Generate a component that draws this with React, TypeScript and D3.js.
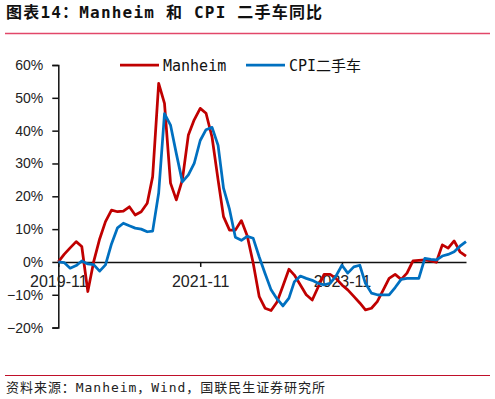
import React, { useEffect, useRef } from "react";
import * as d3 from "d3";

// months 2019-11 .. 2025-08
const months = d3.timeMonth.range(new Date(2019, 10, 1), new Date(2025, 8, 1));

const manheim = [
  0, 2.3, 4.3, 6.2, 4.7, -9, 0, 7, 12.3, 15.8,
  15.3, 15.5, 16.8, 14.3, 15.3, 17.9, 26, 54.4, 48.3, 24,
  18.9, 25, 38.7, 43.3, 46.8, 45.3, 38, 25, 13.8, 9.7,
  9.7, 12.6, 8, -0.4, -10.6, -14.1, -14.8, -12.3, -7.3, -2.2,
  -4, -7, -10, -11.6, -7.7, -3.8, -3.8, -5, -7, -8.5,
  -10.5, -12.5, -14.6, -14.1, -12.1, -8.5, -5, -3.8, -5.3, -3.4,
  0.3, 0.5, 0.6, 0.3, -0.1, 5.2, 4.2, 6.4, 3.1, 1.8,
];

const cpiUsedCars = [
  0, -0.2, -1.9, -1.1, 0.3, -0.6, -0.8, -2.8, -0.9, 5.5,
  10.4, 11.8, 11, 10.3, 10, 9.2, 9.4, 21, 45.2, 41.7,
  33, 24.4, 26.5, 30, 37, 40.3, 41, 35.5, 22.5, 16,
  7.5, 6.6, 7.8, 7.2, 1.5, -3.5, -8.5, -11.2, -13.4, -11,
  -6, -4.3, -5, -5.6, -6.5, -7, -6.5, -4.3, -1, -3.4,
  -1.5, -1, -6.5, -9.5, -10, -10, -10, -7.8, -5.3, -5,
  -5, -5, 1.1, 0.8, 0.6, 1.8, 2.3, 3.1, 4.8, 6.2,
];

const xTickDates = [new Date(2019, 10, 1), new Date(2021, 10, 1), new Date(2023, 10, 1)];
const yTicks = [-20, -10, 0, 10, 20, 30, 40, 50, 60];

const RED = "#c00000";
const BLUE = "#0070c0";

function App() {
  const chart = useRef<SVGSVGElement | null>(null);

  useEffect(() => {
    const width = 495;
    const height = 399;
    const svg = d3.select(chart.current).attr("width", width).attr("height", height);
    const g = svg.append("g");

    g.append("rect").attr("width", width).attr("height", height).attr("fill", "#fff");

    // title
    g.append("text")
      .attr("x", 6)
      .attr("y", 18)
      .attr("font-family", "'DejaVu Sans Mono', 'Noto Sans CJK SC', sans-serif")
      .attr("font-weight", "bold")
      .attr("font-size", 16)
      .attr("letter-spacing", 1.2)
      .attr("fill", "#111")
      .text("图表14：Manheim 和 CPI 二手车同比");

    g.append("line")
      .attr("x1", 5).attr("x2", 490)
      .attr("y1", 33.5).attr("y2", 33.5)
      .attr("stroke", "#e2476a")
      .attr("stroke-width", 1.5);

    const x = d3.scaleTime()
      .domain([months[0], months[months.length - 1]])
      .range([58.3, 466]);

    const y = d3.scaleLinear()
      .domain([-20, 60])
      .range([327.6, 65]);

    // y axis
    const yAxis = d3.axisLeft(y)
      .tickValues(yTicks)
      .tickSize(6)
      .tickPadding(9)
      .tickFormat(d => (+d < 0 ? "\u2212" + Math.abs(+d) : d) + "%");

    const ya = g.append("g")
      .attr("transform", "translate(58.3,0)")
      .call(yAxis);
    ya.selectAll("path, line").attr("stroke", "#111").attr("stroke-width", 1.5);
    ya.selectAll("text")
      .attr("font-family", "'Liberation Sans', Arial, sans-serif")
      .attr("font-size", 14)
      .attr("fill", "#222");

    // x axis at zero
    const xAxis = d3.axisBottom(x)
      .tickValues(xTickDates)
      .tickSize(5)
      .tickSizeOuter(0)
      .tickPadding(9)
      .tickFormat(d => d3.timeFormat("%Y-%m")(d as Date));

    const xa = g.append("g")
      .attr("transform", `translate(0,${y(0)})`)
      .call(xAxis);
    xa.selectAll("path, line").attr("stroke", "#111").attr("stroke-width", 1.5);
    xa.selectAll("text")
      .attr("font-family", "'Liberation Sans', Arial, sans-serif")
      .attr("font-size", 16)
      .attr("fill", "#222");

    const line = d3.line<number>()
      .x((d, i) => x(months[i]))
      .y(d => y(d));

    g.append("path")
      .datum(manheim)
      .attr("d", line)
      .attr("fill", "none")
      .attr("stroke", RED)
      .attr("stroke-width", 2.75)
      .attr("stroke-linejoin", "round");

    g.append("path")
      .datum(cpiUsedCars)
      .attr("d", line)
      .attr("fill", "none")
      .attr("stroke", BLUE)
      .attr("stroke-width", 2.75)
      .attr("stroke-linejoin", "round");

    // legend
    const legend = [
      { name: "Manheim", color: RED, x: 120 },
      { name: "CPI二手车", color: BLUE, x: 246 },
    ];
    const lg = g.selectAll(".legend")
      .data(legend)
      .enter()
      .append("g")
        .attr("class", "legend")
        .attr("transform", d => `translate(${d.x},65)`);
    lg.append("line")
      .attr("x1", 0).attr("x2", 39)
      .attr("stroke", d => d.color)
      .attr("stroke-width", 2.75);
    lg.append("text")
      .attr("x", 43)
      .attr("y", 5.5)
      .attr("font-family", "'DejaVu Sans Mono', 'Noto Sans CJK SC', monospace")
      .attr("font-size", 15)
      .attr("fill", "#111")
      .text(d => d.name);

    // source
    g.append("line")
      .attr("x1", 5).attr("x2", 490)
      .attr("y1", 375.5).attr("y2", 375.5)
      .attr("stroke", "#c0102a")
      .attr("stroke-width", 1.2);

    g.append("text")
      .attr("x", 6)
      .attr("y", 392)
      .attr("font-family", "'DejaVu Sans Mono', 'Noto Sans CJK SC', monospace")
      .attr("font-size", 13)
      .attr("fill", "#222")
      .attr("textLength", 319)
      .attr("lengthAdjust", "spacing")
      .text("资料来源：Manheim，Wind，国联民生证券研究所");

    return () => {
      svg.selectAll("*").remove();
    };
  }, []);

  return (
    <svg ref={chart} style={{ position: "absolute", left: 0, top: 0 }}></svg>
  );
}

export default App;
